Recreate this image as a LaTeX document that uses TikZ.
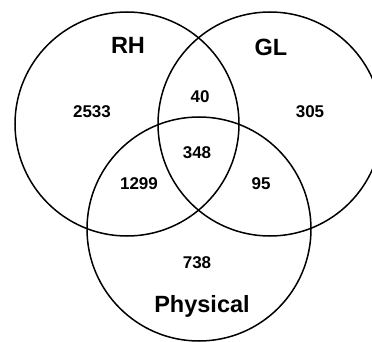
\documentclass[tikz,border=0pt]{standalone}
\usepackage{fontspec}
\setmainfont{Liberation Sans}
\begin{document}
\begin{tikzpicture}[x=1pt,y=-1pt,
  venn/.style={circle,draw=black,line width=1.5pt,minimum size=224pt,inner sep=0pt,outer sep=0pt},
  setlabel/.style={font=\fontsize{23.5}{26}\selectfont\bfseries,inner sep=0pt},
  count/.style={font=\fontsize{17}{19}\selectfont\bfseries,inner sep=0pt}]
\useasboundingbox (0,0) rectangle (372,342);
\clip (0,0) rectangle (372,342);
\node[venn] (rh) at (127,124) {};
\node[venn] (gl) at (270,124) {};
\node[venn] (ph) at (199,229) {};
\node[setlabel] (lrh) at (128,45) {RH};
\node[setlabel] (lgl) at (271,47) {GL};
\node[setlabel] (lph) at (202,306) {Physical};
\node[count] (n2533) at (92,112) {2533};
\node[count] (n40) at (200,97) {40};
\node[count] (n305) at (310,112) {305};
\node[count] (n348) at (197,153) {348};
\node[count] (n1299) at (139,184) {1299};
\node[count] (n95) at (261,184) {95};
\node[count] (n738) at (197,263) {738};
\end{tikzpicture}
\end{document}
